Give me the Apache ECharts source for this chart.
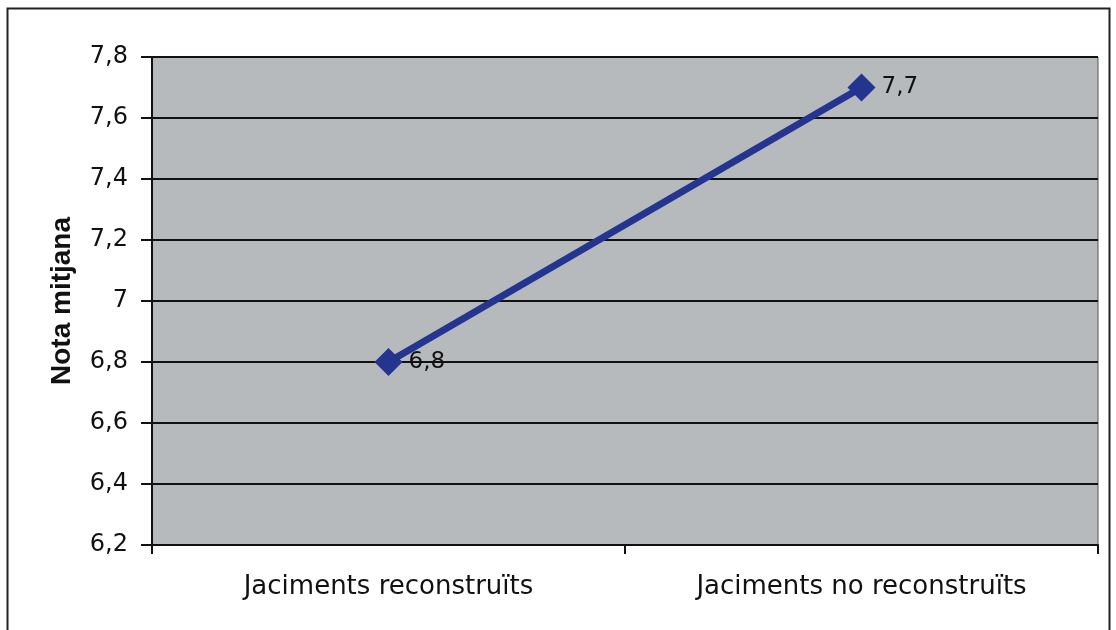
<!DOCTYPE html>
<html><head><meta charset="utf-8">
<script src="https://cdn.jsdelivr.net/npm/echarts@6/dist/echarts.min.js"></script>
<style>html,body{margin:0;padding:0;background:#fff}#c{width:1116px;height:630px}</style>
</head><body><div id="c"></div>
<script>
var categories = ['Jaciments reconstruïts', 'Jaciments no reconstruïts'];
var values = [6.8, 7.7];
var yMin = 6.2, yMax = 7.8, yStep = 0.2;
var yName = 'Nota mitjana';

var chart = echarts.init(document.getElementById('c'));
var fmt = function (v) { return (Math.round(v * 10) / 10).toString().replace('.', ','); };
var FONT = 'DejaVu Sans';
chart.setOption({
  animation: false,
  graphic: [{ type: 'rect', shape: { x: 7.5, y: 8.5, width: 1102, height: 660 }, style: { fill: 'none', stroke: '#222', lineWidth: 2 }, silent: true }],
  grid: { left: 152, right: 18, top: 57, bottom: 85, show: true, backgroundColor: '#b6babd', borderColor: '#555', borderWidth: 1 },
  xAxis: {
    type: 'category', data: categories, boundaryGap: true,
    axisLine: { lineStyle: { color: '#111', width: 2 } },
    axisTick: { show: true, length: 9, lineStyle: { color: '#111', width: 2 } },
    axisLabel: { color: '#111', fontSize: 26, fontFamily: FONT, margin: 29 },
    splitLine: { show: false }
  },
  yAxis: {
    type: 'value', min: yMin, max: yMax, interval: yStep,
    name: yName, nameLocation: 'middle', nameGap: 76, nameRotate: 90,
    nameTextStyle: { color: '#111', fontSize: 28, fontWeight: 'bold', fontFamily: 'Liberation Sans' },
    axisLine: { show: true, lineStyle: { color: '#111', width: 2 } },
    axisTick: { show: true, length: 11, lineStyle: { color: '#111', width: 2 } },
    axisLabel: { color: '#111', fontSize: 24, fontFamily: FONT, margin: 24, formatter: fmt },
    splitLine: { show: true, lineStyle: { color: '#111', width: 2 } }
  },
  series: [{
    type: 'line', data: values,
    symbol: 'diamond', symbolSize: 28,
    lineStyle: { color: '#24358f', width: 7 },
    itemStyle: { color: '#24358f' },
    label: { show: true, position: 'right', distance: 6, color: '#111', fontSize: 23, fontFamily: FONT, formatter: function (p) { return fmt(p.value); } }
  }]
});
</script></body></html>
